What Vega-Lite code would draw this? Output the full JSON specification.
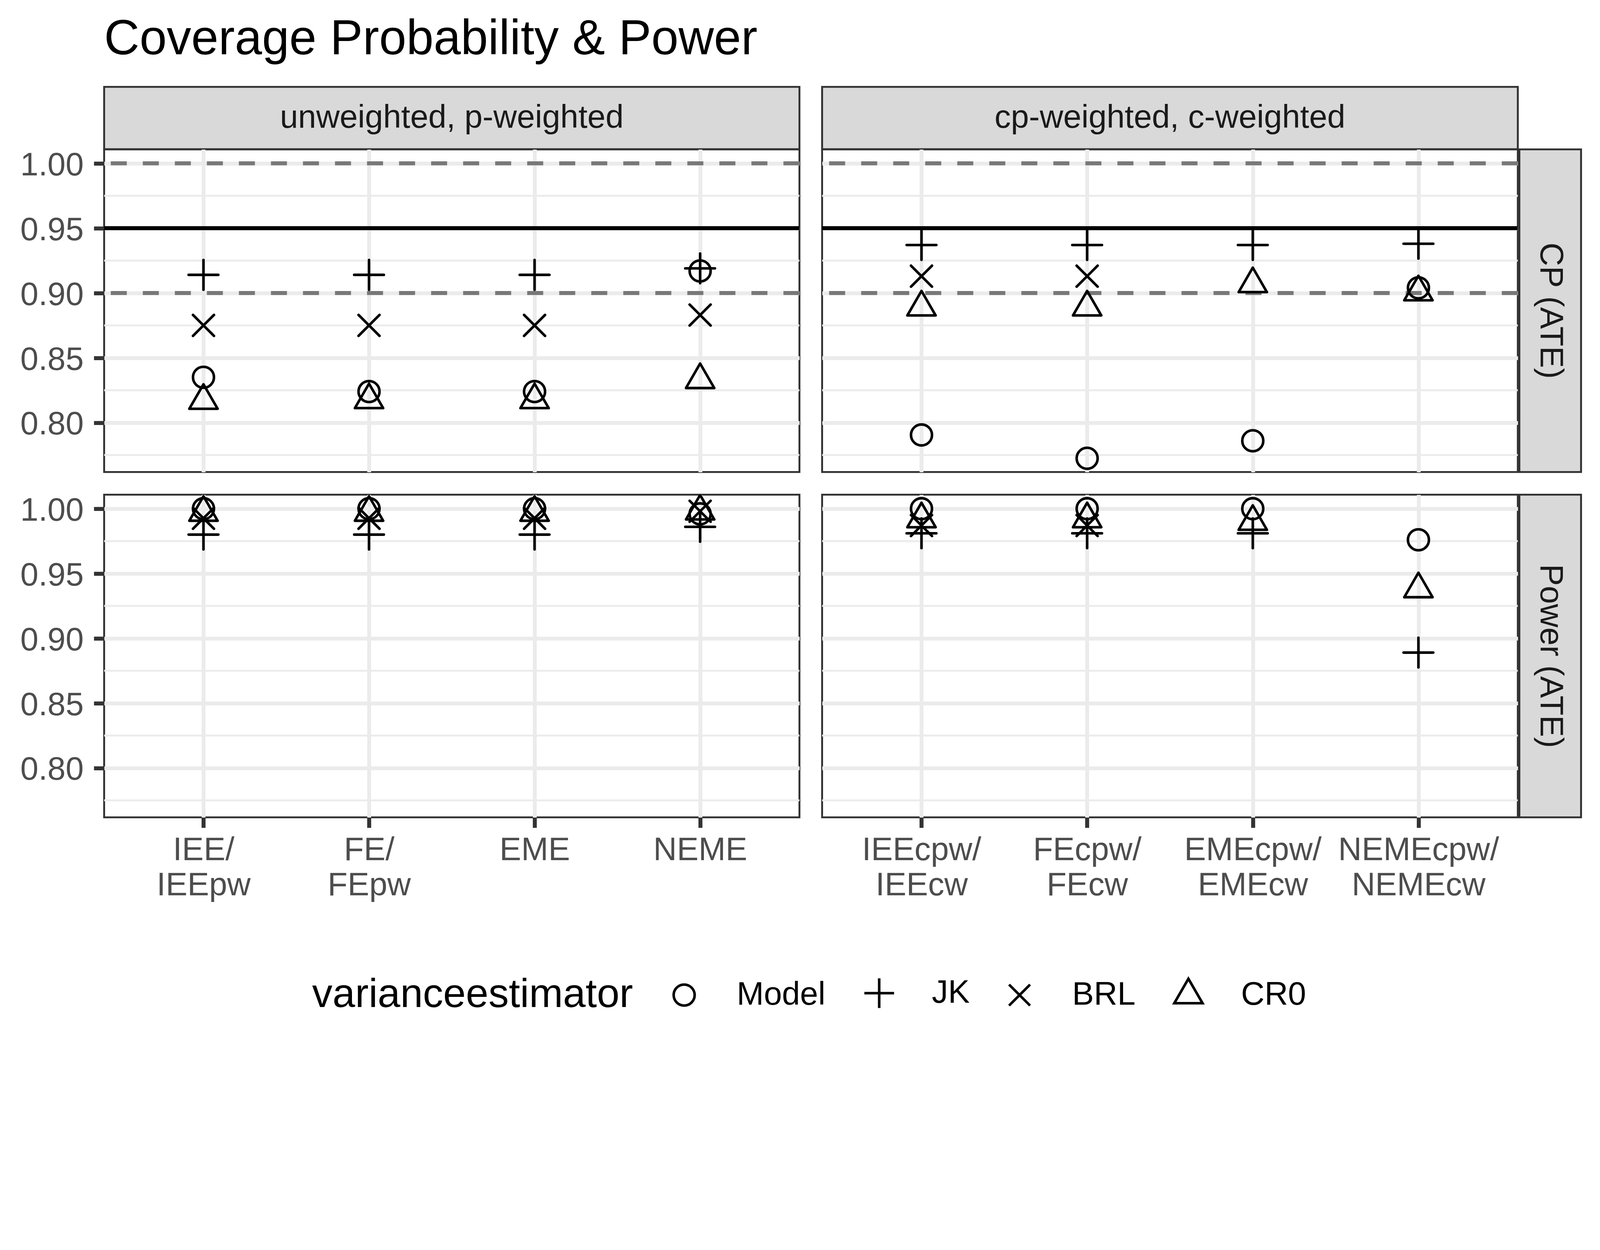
{
  "$schema": "https://vega.github.io/schema/vega-lite/v6.json",
  "background": "white",
  "padding": {"left": 48.6, "top": 38.4, "right": 50, "bottom": 34},
  "title": {"text": "Coverage Probability & Power", "anchor": "start", "frame": "group", "fontSize": 125.4, "fontWeight": "normal", "color": "black", "font": "Liberation Sans", "offset": 54.6},
  "datasets": {
    "minor": [{"v": 0.775}, {"v": 0.825}, {"v": 0.875}, {"v": 0.925}, {"v": 0.975}],
    "refDashed": [{"v": 1.0}, {"v": 0.9}],
    "refSolid": [{"v": 0.95}],
    "points": [
      {"measure": "CP (ATE)", "weighting": "unweighted, p-weighted", "model": "IEE/\nIEEpw", "estimator": "Model", "value": 0.835},
      {"measure": "CP (ATE)", "weighting": "unweighted, p-weighted", "model": "IEE/\nIEEpw", "estimator": "JK", "value": 0.914},
      {"measure": "CP (ATE)", "weighting": "unweighted, p-weighted", "model": "IEE/\nIEEpw", "estimator": "BRL", "value": 0.875},
      {"measure": "CP (ATE)", "weighting": "unweighted, p-weighted", "model": "IEE/\nIEEpw", "estimator": "CR0", "value": 0.817},
      {"measure": "CP (ATE)", "weighting": "unweighted, p-weighted", "model": "FE/\nFEpw", "estimator": "Model", "value": 0.824},
      {"measure": "CP (ATE)", "weighting": "unweighted, p-weighted", "model": "FE/\nFEpw", "estimator": "JK", "value": 0.914},
      {"measure": "CP (ATE)", "weighting": "unweighted, p-weighted", "model": "FE/\nFEpw", "estimator": "BRL", "value": 0.875},
      {"measure": "CP (ATE)", "weighting": "unweighted, p-weighted", "model": "FE/\nFEpw", "estimator": "CR0", "value": 0.8175},
      {"measure": "CP (ATE)", "weighting": "unweighted, p-weighted", "model": "EME", "estimator": "Model", "value": 0.824},
      {"measure": "CP (ATE)", "weighting": "unweighted, p-weighted", "model": "EME", "estimator": "JK", "value": 0.914},
      {"measure": "CP (ATE)", "weighting": "unweighted, p-weighted", "model": "EME", "estimator": "BRL", "value": 0.875},
      {"measure": "CP (ATE)", "weighting": "unweighted, p-weighted", "model": "EME", "estimator": "CR0", "value": 0.8175},
      {"measure": "CP (ATE)", "weighting": "unweighted, p-weighted", "model": "NEME", "estimator": "Model", "value": 0.917},
      {"measure": "CP (ATE)", "weighting": "unweighted, p-weighted", "model": "NEME", "estimator": "JK", "value": 0.919},
      {"measure": "CP (ATE)", "weighting": "unweighted, p-weighted", "model": "NEME", "estimator": "BRL", "value": 0.883},
      {"measure": "CP (ATE)", "weighting": "unweighted, p-weighted", "model": "NEME", "estimator": "CR0", "value": 0.833},
      {"measure": "CP (ATE)", "weighting": "cp-weighted, c-weighted", "model": "IEEcpw/\nIEEcw", "estimator": "Model", "value": 0.7905},
      {"measure": "CP (ATE)", "weighting": "cp-weighted, c-weighted", "model": "IEEcpw/\nIEEcw", "estimator": "JK", "value": 0.937},
      {"measure": "CP (ATE)", "weighting": "cp-weighted, c-weighted", "model": "IEEcpw/\nIEEcw", "estimator": "BRL", "value": 0.913},
      {"measure": "CP (ATE)", "weighting": "cp-weighted, c-weighted", "model": "IEEcpw/\nIEEcw", "estimator": "CR0", "value": 0.889},
      {"measure": "CP (ATE)", "weighting": "cp-weighted, c-weighted", "model": "FEcpw/\nFEcw", "estimator": "Model", "value": 0.7725},
      {"measure": "CP (ATE)", "weighting": "cp-weighted, c-weighted", "model": "FEcpw/\nFEcw", "estimator": "JK", "value": 0.937},
      {"measure": "CP (ATE)", "weighting": "cp-weighted, c-weighted", "model": "FEcpw/\nFEcw", "estimator": "BRL", "value": 0.913},
      {"measure": "CP (ATE)", "weighting": "cp-weighted, c-weighted", "model": "FEcpw/\nFEcw", "estimator": "CR0", "value": 0.889},
      {"measure": "CP (ATE)", "weighting": "cp-weighted, c-weighted", "model": "EMEcpw/\nEMEcw", "estimator": "Model", "value": 0.786},
      {"measure": "CP (ATE)", "weighting": "cp-weighted, c-weighted", "model": "EMEcpw/\nEMEcw", "estimator": "JK", "value": 0.937},
      {"measure": "CP (ATE)", "weighting": "cp-weighted, c-weighted", "model": "EMEcpw/\nEMEcw", "estimator": "CR0", "value": 0.907},
      {"measure": "CP (ATE)", "weighting": "cp-weighted, c-weighted", "model": "NEMEcpw/\nNEMEcw", "estimator": "Model", "value": 0.904},
      {"measure": "CP (ATE)", "weighting": "cp-weighted, c-weighted", "model": "NEMEcpw/\nNEMEcw", "estimator": "JK", "value": 0.938},
      {"measure": "CP (ATE)", "weighting": "cp-weighted, c-weighted", "model": "NEMEcpw/\nNEMEcw", "estimator": "CR0", "value": 0.9007},
      {"measure": "Power (ATE)", "weighting": "unweighted, p-weighted", "model": "IEE/\nIEEpw", "estimator": "Model", "value": 1.0},
      {"measure": "Power (ATE)", "weighting": "unweighted, p-weighted", "model": "IEE/\nIEEpw", "estimator": "JK", "value": 0.98},
      {"measure": "Power (ATE)", "weighting": "unweighted, p-weighted", "model": "IEE/\nIEEpw", "estimator": "BRL", "value": 0.9926},
      {"measure": "Power (ATE)", "weighting": "unweighted, p-weighted", "model": "IEE/\nIEEpw", "estimator": "CR0", "value": 0.997},
      {"measure": "Power (ATE)", "weighting": "unweighted, p-weighted", "model": "FE/\nFEpw", "estimator": "Model", "value": 1.0},
      {"measure": "Power (ATE)", "weighting": "unweighted, p-weighted", "model": "FE/\nFEpw", "estimator": "JK", "value": 0.98},
      {"measure": "Power (ATE)", "weighting": "unweighted, p-weighted", "model": "FE/\nFEpw", "estimator": "BRL", "value": 0.9926},
      {"measure": "Power (ATE)", "weighting": "unweighted, p-weighted", "model": "FE/\nFEpw", "estimator": "CR0", "value": 0.997},
      {"measure": "Power (ATE)", "weighting": "unweighted, p-weighted", "model": "EME", "estimator": "Model", "value": 1.0},
      {"measure": "Power (ATE)", "weighting": "unweighted, p-weighted", "model": "EME", "estimator": "JK", "value": 0.98},
      {"measure": "Power (ATE)", "weighting": "unweighted, p-weighted", "model": "EME", "estimator": "BRL", "value": 0.9926},
      {"measure": "Power (ATE)", "weighting": "unweighted, p-weighted", "model": "EME", "estimator": "CR0", "value": 0.997},
      {"measure": "Power (ATE)", "weighting": "unweighted, p-weighted", "model": "NEME", "estimator": "Model", "value": 0.996},
      {"measure": "Power (ATE)", "weighting": "unweighted, p-weighted", "model": "NEME", "estimator": "JK", "value": 0.986},
      {"measure": "Power (ATE)", "weighting": "unweighted, p-weighted", "model": "NEME", "estimator": "BRL", "value": 0.998},
      {"measure": "Power (ATE)", "weighting": "unweighted, p-weighted", "model": "NEME", "estimator": "CR0", "value": 0.998},
      {"measure": "Power (ATE)", "weighting": "cp-weighted, c-weighted", "model": "IEEcpw/\nIEEcw", "estimator": "Model", "value": 1.0},
      {"measure": "Power (ATE)", "weighting": "cp-weighted, c-weighted", "model": "IEEcpw/\nIEEcw", "estimator": "JK", "value": 0.981},
      {"measure": "Power (ATE)", "weighting": "cp-weighted, c-weighted", "model": "IEEcpw/\nIEEcw", "estimator": "BRL", "value": 0.987},
      {"measure": "Power (ATE)", "weighting": "cp-weighted, c-weighted", "model": "IEEcpw/\nIEEcw", "estimator": "CR0", "value": 0.992},
      {"measure": "Power (ATE)", "weighting": "cp-weighted, c-weighted", "model": "FEcpw/\nFEcw", "estimator": "Model", "value": 1.0},
      {"measure": "Power (ATE)", "weighting": "cp-weighted, c-weighted", "model": "FEcpw/\nFEcw", "estimator": "JK", "value": 0.981},
      {"measure": "Power (ATE)", "weighting": "cp-weighted, c-weighted", "model": "FEcpw/\nFEcw", "estimator": "BRL", "value": 0.987},
      {"measure": "Power (ATE)", "weighting": "cp-weighted, c-weighted", "model": "FEcpw/\nFEcw", "estimator": "CR0", "value": 0.992},
      {"measure": "Power (ATE)", "weighting": "cp-weighted, c-weighted", "model": "EMEcpw/\nEMEcw", "estimator": "Model", "value": 1.0},
      {"measure": "Power (ATE)", "weighting": "cp-weighted, c-weighted", "model": "EMEcpw/\nEMEcw", "estimator": "JK", "value": 0.981},
      {"measure": "Power (ATE)", "weighting": "cp-weighted, c-weighted", "model": "EMEcpw/\nEMEcw", "estimator": "CR0", "value": 0.99},
      {"measure": "Power (ATE)", "weighting": "cp-weighted, c-weighted", "model": "NEMEcpw/\nNEMEcw", "estimator": "Model", "value": 0.976},
      {"measure": "Power (ATE)", "weighting": "cp-weighted, c-weighted", "model": "NEMEcpw/\nNEMEcw", "estimator": "JK", "value": 0.889},
      {"measure": "Power (ATE)", "weighting": "cp-weighted, c-weighted", "model": "NEMEcpw/\nNEMEcw", "estimator": "CR0", "value": 0.938}
    ]
  },
  "columns": 5,
  "spacing": 0,
  "align": "each",
  "bounds": "flush",
  "concat": [
    {"width": 1780, "height": 159.6, "data": {"values": [{"label": "unweighted, p-weighted"}]}, "mark": {"type": "text", "fontSize": 83.3, "color": "#1A1A1A"}, "encoding": {"text": {"field": "label", "type": "nominal"}}, "view": {"fill": "#D9D9D9", "stroke": "#333333", "strokeWidth": 4.86}},
    {"width": 57.2, "height": 159.6, "data": {"values": [{}]}, "mark": {"type": "text", "text": ""}, "view": {"stroke": null, "fill": null}},
    {"width": 1781, "height": 159.6, "data": {"values": [{"label": "cp-weighted, c-weighted"}]}, "mark": {"type": "text", "fontSize": 83.3, "color": "#1A1A1A"}, "encoding": {"text": {"field": "label", "type": "nominal"}}, "view": {"fill": "#D9D9D9", "stroke": "#333333", "strokeWidth": 4.86}},
    {"width": 3.4, "height": 159.6, "data": {"values": [{}]}, "mark": {"type": "text", "text": ""}, "view": {"stroke": null, "fill": null}},
    {"width": 157.9, "height": 159.6, "data": {"values": [{}]}, "mark": {"type": "text", "text": ""}, "view": {"stroke": null, "fill": null}},

    {"width": 1780, "height": 826,
     "layer": [
      {"data": {"name": "minor"}, "mark": {"type": "rule", "color": "#EBEBEB", "strokeWidth": 4.86}, "encoding": {"y": {"field": "v", "type": "quantitative", "scale": {"domain": [0.7619, 1.0108], "nice": false, "zero": false}, "axis": {"title": null, "values": [0.8, 0.85, 0.9, 0.95, 1.0], "format": ".2f", "tickSize": 26.45, "tickWidth": 10.24, "tickColor": "#333333", "labelPadding": 26.45, "labelFontSize": 83.3, "labelColor": "#4D4D4D", "labelBaseline": "top", "labelOffset": -36, "labelLimit": 1000, "domain": false, "grid": true, "gridColor": "#EBEBEB", "gridWidth": 9.81}}}},
      {"data": {"name": "refDashed"}, "mark": {"type": "rule", "color": "#787878", "strokeWidth": 10.24, "strokeDash": [41, 41]}, "encoding": {"y": {"field": "v", "type": "quantitative", "scale": {"domain": [0.7619, 1.0108], "nice": false, "zero": false}, "axis": {"title": null, "values": [0.8, 0.85, 0.9, 0.95, 1.0], "format": ".2f", "tickSize": 26.45, "tickWidth": 10.24, "tickColor": "#333333", "labelPadding": 26.45, "labelFontSize": 83.3, "labelColor": "#4D4D4D", "labelBaseline": "top", "labelOffset": -36, "labelLimit": 1000, "domain": false, "grid": true, "gridColor": "#EBEBEB", "gridWidth": 9.81}}}},
      {"data": {"name": "refSolid"}, "mark": {"type": "rule", "color": "black", "strokeWidth": 10.24}, "encoding": {"y": {"field": "v", "type": "quantitative", "scale": {"domain": [0.7619, 1.0108], "nice": false, "zero": false}, "axis": {"title": null, "values": [0.8, 0.85, 0.9, 0.95, 1.0], "format": ".2f", "tickSize": 26.45, "tickWidth": 10.24, "tickColor": "#333333", "labelPadding": 26.45, "labelFontSize": 83.3, "labelColor": "#4D4D4D", "labelBaseline": "top", "labelOffset": -36, "labelLimit": 1000, "domain": false, "grid": true, "gridColor": "#EBEBEB", "gridWidth": 9.81}}}},
      {"data": {"name": "points"}, "transform": [{"filter": "datum.measure === 'CP (ATE)' && datum.weighting === 'unweighted, p-weighted'"}],
       "mark": {"type": "point", "filled": false, "color": "black", "strokeWidth": 6.57, "size": 2890, "opacity": 1, "strokeCap": "round", "strokeJoin": "round"},
       "encoding": {
        "x": {"field": "model", "type": "nominal", "scale": {"type": "point", "padding": 0.6, "domain": ["IEE/\nIEEpw", "FE/\nFEpw", "EME", "NEME"]}, "axis": {"title": null, "labels": false, "ticks": false, "domain": false, "grid": true, "gridColor": "#EBEBEB", "gridWidth": 9.81}},
        "y": {"field": "value", "type": "quantitative", "scale": {"domain": [0.7619, 1.0108], "nice": false, "zero": false}, "axis": {"title": null, "values": [0.8, 0.85, 0.9, 0.95, 1.0], "format": ".2f", "tickSize": 26.45, "tickWidth": 10.24, "tickColor": "#333333", "labelPadding": 26.45, "labelFontSize": 83.3, "labelColor": "#4D4D4D", "labelBaseline": "top", "labelOffset": -36, "labelLimit": 1000, "domain": false, "grid": true, "gridColor": "#EBEBEB", "gridWidth": 9.81}},
        "shape": {"field": "estimator", "type": "nominal", "scale": {"domain": ["Model", "JK", "BRL", "CR0"], "range": ["circle", "M-1.414,0L1.414,0M0,-1.414L0,1.414", "M-1,-1L1,1M-1,1L1,-1", "M0,-1.555L1.347,0.778L-1.347,0.778Z"]},
          "legend": {"title": "varianceestimator", "orient": "none", "legendX": 532.5, "legendY": 2278.3, "direction": "horizontal", "titleOrient": "left", "titleAngle": 0, "titleAnchor": "middle", "titleBaseline": "middle", "titleFontSize": 104.1, "titleFontWeight": "normal", "titleColor": "black", "titleLimit": 3000, "titlePadding": 88.7, "labelFontSize": 83.3, "labelColor": "black", "labelLimit": 1000, "labelOffset": 93, "columnPadding": 85.3, "symbolSize": 2890, "symbolStrokeWidth": 6.57, "symbolStrokeColor": "black", "symbolFillColor": "transparent", "symbolOpacity": 1, "padding": 0}}
       }}
     ]},
    {"width": 57.2, "height": 826, "data": {"values": [{}]}, "mark": {"type": "text", "text": ""}, "view": {"stroke": null, "fill": null}},
    {"width": 1781, "height": 826,
     "layer": [
      {"data": {"name": "minor"}, "mark": {"type": "rule", "color": "#EBEBEB", "strokeWidth": 4.86}, "encoding": {"y": {"field": "v", "type": "quantitative", "scale": {"domain": [0.7619, 1.0108], "nice": false, "zero": false}, "axis": {"title": null, "values": [0.8, 0.85, 0.9, 0.95, 1.0], "labels": false, "ticks": false, "domain": false, "grid": true, "gridColor": "#EBEBEB", "gridWidth": 9.81}}}},
      {"data": {"name": "refDashed"}, "mark": {"type": "rule", "color": "#787878", "strokeWidth": 10.24, "strokeDash": [41, 41]}, "encoding": {"y": {"field": "v", "type": "quantitative", "scale": {"domain": [0.7619, 1.0108], "nice": false, "zero": false}, "axis": {"title": null, "values": [0.8, 0.85, 0.9, 0.95, 1.0], "labels": false, "ticks": false, "domain": false, "grid": true, "gridColor": "#EBEBEB", "gridWidth": 9.81}}}},
      {"data": {"name": "refSolid"}, "mark": {"type": "rule", "color": "black", "strokeWidth": 10.24}, "encoding": {"y": {"field": "v", "type": "quantitative", "scale": {"domain": [0.7619, 1.0108], "nice": false, "zero": false}, "axis": {"title": null, "values": [0.8, 0.85, 0.9, 0.95, 1.0], "labels": false, "ticks": false, "domain": false, "grid": true, "gridColor": "#EBEBEB", "gridWidth": 9.81}}}},
      {"data": {"name": "points"}, "transform": [{"filter": "datum.measure === 'CP (ATE)' && datum.weighting === 'cp-weighted, c-weighted'"}],
       "mark": {"type": "point", "filled": false, "color": "black", "strokeWidth": 6.57, "size": 2890, "opacity": 1, "strokeCap": "round", "strokeJoin": "round"},
       "encoding": {
        "x": {"field": "model", "type": "nominal", "scale": {"type": "point", "padding": 0.6, "domain": ["IEEcpw/\nIEEcw", "FEcpw/\nFEcw", "EMEcpw/\nEMEcw", "NEMEcpw/\nNEMEcw"]}, "axis": {"title": null, "labels": false, "ticks": false, "domain": false, "grid": true, "gridColor": "#EBEBEB", "gridWidth": 9.81}},
        "y": {"field": "value", "type": "quantitative", "scale": {"domain": [0.7619, 1.0108], "nice": false, "zero": false}, "axis": {"title": null, "values": [0.8, 0.85, 0.9, 0.95, 1.0], "labels": false, "ticks": false, "domain": false, "grid": true, "gridColor": "#EBEBEB", "gridWidth": 9.81}},
        "shape": {"field": "estimator", "type": "nominal", "scale": {"domain": ["Model", "JK", "BRL", "CR0"], "range": ["circle", "M-1.414,0L1.414,0M0,-1.414L0,1.414", "M-1,-1L1,1M-1,1L1,-1", "M0,-1.555L1.347,0.778L-1.347,0.778Z"]},
          "legend": {"title": "varianceestimator", "orient": "none", "legendX": 532.5, "legendY": 2278.3, "direction": "horizontal", "titleOrient": "left", "titleAngle": 0, "titleAnchor": "middle", "titleBaseline": "middle", "titleFontSize": 104.1, "titleFontWeight": "normal", "titleColor": "black", "titleLimit": 3000, "titlePadding": 88.7, "labelFontSize": 83.3, "labelColor": "black", "labelLimit": 1000, "labelOffset": 93, "columnPadding": 85.3, "symbolSize": 2890, "symbolStrokeWidth": 6.57, "symbolStrokeColor": "black", "symbolFillColor": "transparent", "symbolOpacity": 1, "padding": 0}}
       }}
     ]},
    {"width": 3.4, "height": 826, "data": {"values": [{}]}, "mark": {"type": "text", "text": ""}, "view": {"stroke": null, "fill": null}},
    {"width": 157.9, "height": 826, "data": {"values": [{"label": "CP (ATE)"}]}, "mark": {"type": "text", "fontSize": 83.3, "color": "#1A1A1A", "angle": 90}, "encoding": {"text": {"field": "label", "type": "nominal"}}, "view": {"fill": "#D9D9D9", "stroke": "#333333", "strokeWidth": 4.86}},

    {"width": 1780, "height": 58, "data": {"values": [{}]}, "mark": {"type": "text", "text": ""}, "view": {"stroke": null, "fill": null}},
    {"width": 57.2, "height": 58, "data": {"values": [{}]}, "mark": {"type": "text", "text": ""}, "view": {"stroke": null, "fill": null}},
    {"width": 1781, "height": 58, "data": {"values": [{}]}, "mark": {"type": "text", "text": ""}, "view": {"stroke": null, "fill": null}},
    {"width": 3.4, "height": 58, "data": {"values": [{}]}, "mark": {"type": "text", "text": ""}, "view": {"stroke": null, "fill": null}},
    {"width": 157.9, "height": 58, "data": {"values": [{}]}, "mark": {"type": "text", "text": ""}, "view": {"stroke": null, "fill": null}},

    {"width": 1780, "height": 826,
     "layer": [
      {"data": {"name": "minor"}, "mark": {"type": "rule", "color": "#EBEBEB", "strokeWidth": 4.86}, "encoding": {"y": {"field": "v", "type": "quantitative", "scale": {"domain": [0.7619, 1.0108], "nice": false, "zero": false}, "axis": {"title": null, "values": [0.8, 0.85, 0.9, 0.95, 1.0], "format": ".2f", "tickSize": 26.45, "tickWidth": 10.24, "tickColor": "#333333", "labelPadding": 26.45, "labelFontSize": 83.3, "labelColor": "#4D4D4D", "labelBaseline": "top", "labelOffset": -36, "labelLimit": 1000, "domain": false, "grid": true, "gridColor": "#EBEBEB", "gridWidth": 9.81}}}},
      {"data": {"name": "points"}, "transform": [{"filter": "datum.measure === 'Power (ATE)' && datum.weighting === 'unweighted, p-weighted'"}],
       "mark": {"type": "point", "filled": false, "color": "black", "strokeWidth": 6.57, "size": 2890, "opacity": 1, "strokeCap": "round", "strokeJoin": "round", "clip": true},
       "encoding": {
        "x": {"field": "model", "type": "nominal", "scale": {"type": "point", "padding": 0.6, "domain": ["IEE/\nIEEpw", "FE/\nFEpw", "EME", "NEME"]}, "axis": {"title": null, "labelExpr": "split(datum.label, '\\n')", "labelAngle": 0, "labelFontSize": 83.3, "labelColor": "#4D4D4D", "labelPadding": 16.2, "labelLineHeight": 90.45, "labelBaseline": "top", "labelLimit": 2000, "labelOverlap": false, "tickSize": 26.45, "tickWidth": 10.24, "tickColor": "#333333", "domain": false, "grid": true, "gridColor": "#EBEBEB", "gridWidth": 9.81}},
        "y": {"field": "value", "type": "quantitative", "scale": {"domain": [0.7619, 1.0108], "nice": false, "zero": false}, "axis": {"title": null, "values": [0.8, 0.85, 0.9, 0.95, 1.0], "format": ".2f", "tickSize": 26.45, "tickWidth": 10.24, "tickColor": "#333333", "labelPadding": 26.45, "labelFontSize": 83.3, "labelColor": "#4D4D4D", "labelBaseline": "top", "labelOffset": -36, "labelLimit": 1000, "domain": false, "grid": true, "gridColor": "#EBEBEB", "gridWidth": 9.81}},
        "shape": {"field": "estimator", "type": "nominal", "scale": {"domain": ["Model", "JK", "BRL", "CR0"], "range": ["circle", "M-1.414,0L1.414,0M0,-1.414L0,1.414", "M-1,-1L1,1M-1,1L1,-1", "M0,-1.555L1.347,0.778L-1.347,0.778Z"]},
          "legend": {"title": "varianceestimator", "orient": "none", "legendX": 532.5, "legendY": 2278.3, "direction": "horizontal", "titleOrient": "left", "titleAngle": 0, "titleAnchor": "middle", "titleBaseline": "middle", "titleFontSize": 104.1, "titleFontWeight": "normal", "titleColor": "black", "titleLimit": 3000, "titlePadding": 88.7, "labelFontSize": 83.3, "labelColor": "black", "labelLimit": 1000, "labelOffset": 93, "columnPadding": 85.3, "symbolSize": 2890, "symbolStrokeWidth": 6.57, "symbolStrokeColor": "black", "symbolFillColor": "transparent", "symbolOpacity": 1, "padding": 0}}
       }}
     ]},
    {"width": 57.2, "height": 826, "data": {"values": [{}]}, "mark": {"type": "text", "text": ""}, "view": {"stroke": null, "fill": null}},
    {"width": 1781, "height": 826,
     "layer": [
      {"data": {"name": "minor"}, "mark": {"type": "rule", "color": "#EBEBEB", "strokeWidth": 4.86}, "encoding": {"y": {"field": "v", "type": "quantitative", "scale": {"domain": [0.7619, 1.0108], "nice": false, "zero": false}, "axis": {"title": null, "values": [0.8, 0.85, 0.9, 0.95, 1.0], "labels": false, "ticks": false, "domain": false, "grid": true, "gridColor": "#EBEBEB", "gridWidth": 9.81}}}},
      {"data": {"name": "points"}, "transform": [{"filter": "datum.measure === 'Power (ATE)' && datum.weighting === 'cp-weighted, c-weighted'"}],
       "mark": {"type": "point", "filled": false, "color": "black", "strokeWidth": 6.57, "size": 2890, "opacity": 1, "strokeCap": "round", "strokeJoin": "round", "clip": true},
       "encoding": {
        "x": {"field": "model", "type": "nominal", "scale": {"type": "point", "padding": 0.6, "domain": ["IEEcpw/\nIEEcw", "FEcpw/\nFEcw", "EMEcpw/\nEMEcw", "NEMEcpw/\nNEMEcw"]}, "axis": {"title": null, "labelExpr": "split(datum.label, '\\n')", "labelAngle": 0, "labelFontSize": 83.3, "labelColor": "#4D4D4D", "labelPadding": 16.2, "labelLineHeight": 90.45, "labelBaseline": "top", "labelLimit": 2000, "labelOverlap": false, "tickSize": 26.45, "tickWidth": 10.24, "tickColor": "#333333", "domain": false, "grid": true, "gridColor": "#EBEBEB", "gridWidth": 9.81}},
        "y": {"field": "value", "type": "quantitative", "scale": {"domain": [0.7619, 1.0108], "nice": false, "zero": false}, "axis": {"title": null, "values": [0.8, 0.85, 0.9, 0.95, 1.0], "labels": false, "ticks": false, "domain": false, "grid": true, "gridColor": "#EBEBEB", "gridWidth": 9.81}},
        "shape": {"field": "estimator", "type": "nominal", "scale": {"domain": ["Model", "JK", "BRL", "CR0"], "range": ["circle", "M-1.414,0L1.414,0M0,-1.414L0,1.414", "M-1,-1L1,1M-1,1L1,-1", "M0,-1.555L1.347,0.778L-1.347,0.778Z"]},
          "legend": {"title": "varianceestimator", "orient": "none", "legendX": 532.5, "legendY": 2278.3, "direction": "horizontal", "titleOrient": "left", "titleAngle": 0, "titleAnchor": "middle", "titleBaseline": "middle", "titleFontSize": 104.1, "titleFontWeight": "normal", "titleColor": "black", "titleLimit": 3000, "titlePadding": 88.7, "labelFontSize": 83.3, "labelColor": "black", "labelLimit": 1000, "labelOffset": 93, "columnPadding": 85.3, "symbolSize": 2890, "symbolStrokeWidth": 6.57, "symbolStrokeColor": "black", "symbolFillColor": "transparent", "symbolOpacity": 1, "padding": 0}}
       }}
     ]},
    {"width": 3.4, "height": 826, "data": {"values": [{}]}, "mark": {"type": "text", "text": ""}, "view": {"stroke": null, "fill": null}},
    {"width": 157.9, "height": 826, "data": {"values": [{"label": "Power (ATE)"}]}, "mark": {"type": "text", "fontSize": 83.3, "color": "#1A1A1A", "angle": 90}, "encoding": {"text": {"field": "label", "type": "nominal"}}, "view": {"fill": "#D9D9D9", "stroke": "#333333", "strokeWidth": 4.86}}
  ],
  "config": {
    "font": "Liberation Sans",
    "view": {"stroke": "#333333", "strokeWidth": 4.86},
    "axis": {"labelFont": "Liberation Sans"},
    "legend": {"labelFont": "Liberation Sans", "titleFont": "Liberation Sans"},
    "text": {"font": "Liberation Sans"}
  }
}
